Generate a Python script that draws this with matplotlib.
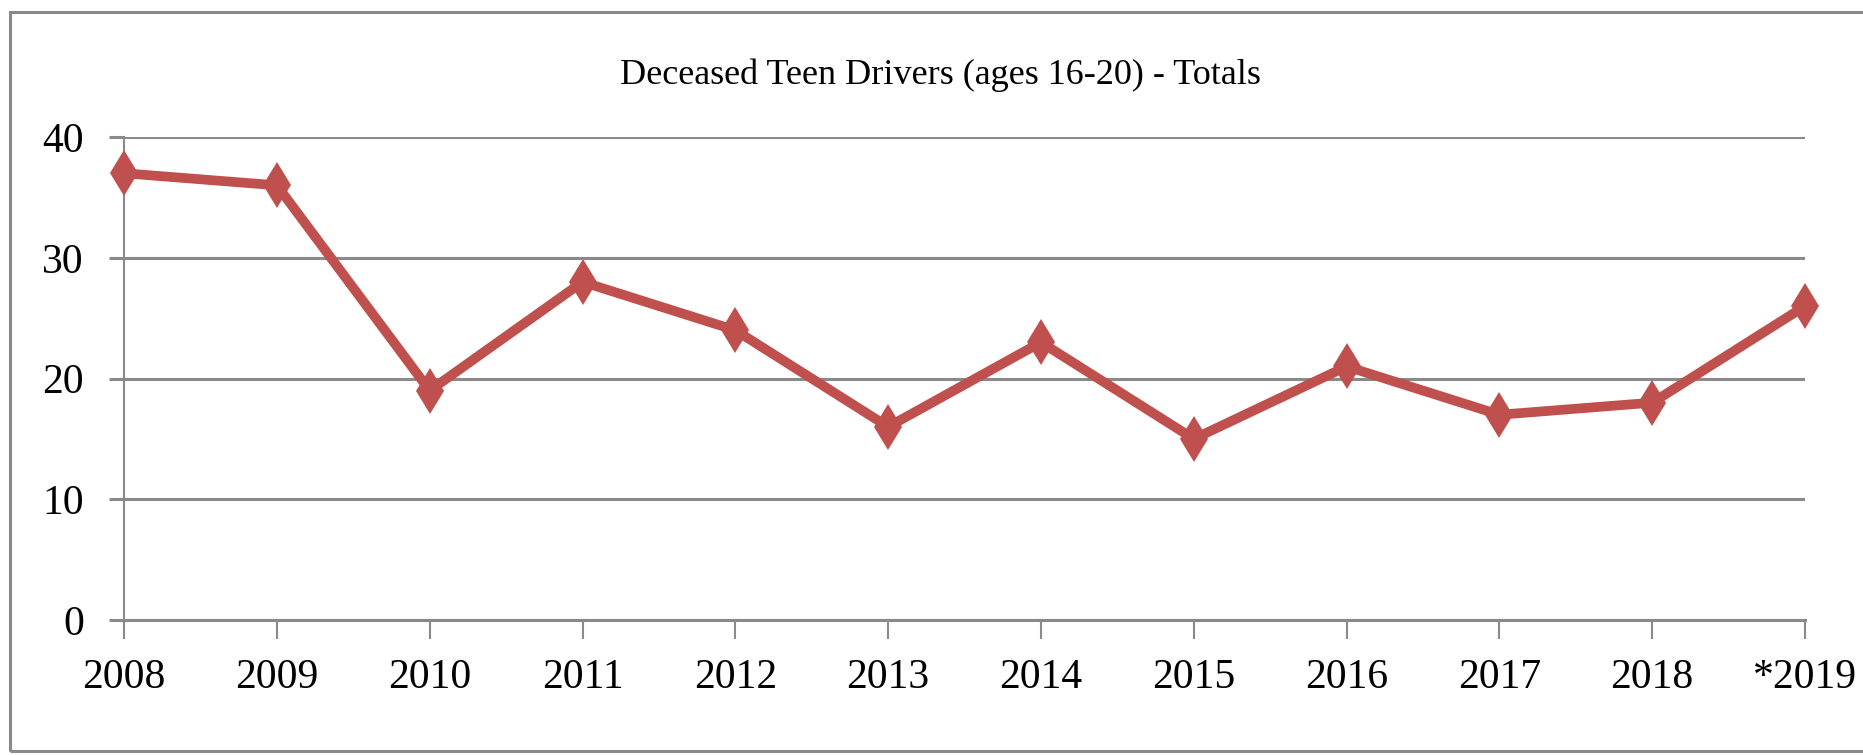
import numpy as np
from matplotlib import pyplot as plt
from matplotlib.patches import Rectangle

plt.close('all')

years = ['2008', '2009', '2010', '2011', '2012', '2013', '2014',
         '2015', '2016', '2017', '2018', '*2019']
deaths = np.array([37, 36, 19, 28, 24, 16, 23, 15, 21, 17, 18, 26], float)
y_ticks = [0, 10, 20, 30, 40]

font_tick = {
    'family': 'Liberation Serif',
    'color': 'black',
    'size': 30,
}

font_title = {
    'family': 'Liberation Serif',
    'color': 'black',
    'size': 26,
}

grey = '#8a8a8a'
red = '#c0504d'

fig = plt.figure(figsize=(18.63, 7.55), dpi=100)
ax = fig.add_axes([0.0666, 0.1788, 0.9689 - 0.0666, 0.8185 - 0.1788])

# outer chart frame (right edge is cut off in the original)
fig.patches.append(Rectangle((10 / 1863, 4 / 755), 1.2, 739 / 755,
                             transform=fig.transFigure, fill=False,
                             edgecolor=grey, linewidth=2.2, clip_on=False))

x = np.arange(len(years))
ax.plot(x, deaths, color=red, linewidth=7, marker='d', markersize=23,
        markeredgewidth=0, clip_on=False, zorder=3)

ax.set_xlim(0, len(years) - 1)
ax.set_ylim(0, 40)
ax.set_yticks(y_ticks)
ax.set_yticklabels([str(v) for v in y_ticks], fontdict=font_tick)
ax.set_xticks(x)
ax.set_xticklabels(years, fontdict=font_tick)

ax.yaxis.grid(True, color=grey, linewidth=2.2)
ax.set_axisbelow(True)
for s in ['top', 'right']:
    ax.spines[s].set_visible(False)
ax.spines['left'].set_color(grey)
ax.spines['left'].set_linewidth(1.5)
ax.spines['bottom'].set_color(grey)
ax.spines['bottom'].set_linewidth(2.2)
ax.tick_params(axis='x', direction='out', length=14, width=1.5, color=grey, pad=14)
ax.tick_params(axis='y', direction='out', length=11, width=2.2, color=grey, pad=18)

fig.text(0.5046, 0.90, 'Deceased Teen Drivers (ages 16-20) - Totals',
         ha='center', va='center', fontdict=font_title)

fig.savefig('out.png', dpi=100)
